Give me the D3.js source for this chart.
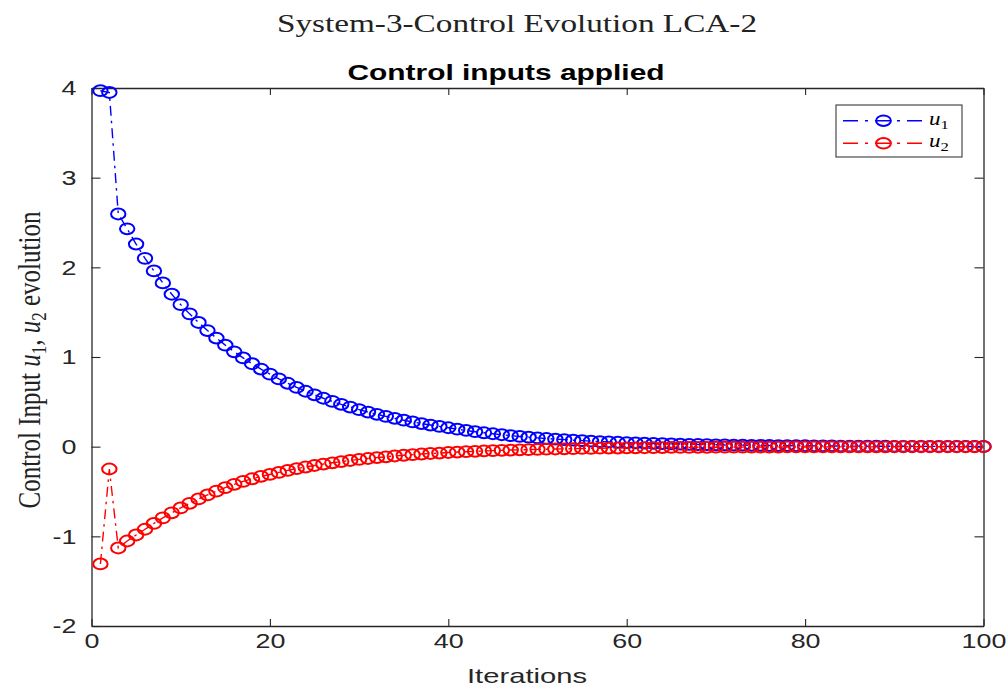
<!DOCTYPE html>
<html>
<head>
<meta charset="utf-8">
<script src="https://cdn.jsdelivr.net/npm/d3@7"></script>
<style>
  html, body { margin: 0; padding: 0; background: #fff; }
  svg { display: block; }
</style>
</head>
<body>
<svg id="chart" width="1006" height="696"></svg>
<script>
// Control inputs u1 and u2 over 100 iterations
const u1 = [
  3.970, 3.950, 2.595, 2.430, 2.260, 2.100, 1.960, 1.826, 1.700, 1.584,
  1.481, 1.385, 1.295, 1.211, 1.132, 1.058, 0.990, 0.925, 0.865, 0.809,
  0.756, 0.707, 0.661, 0.618, 0.578, 0.540, 0.505, 0.472, 0.442, 0.413,
  0.386, 0.361, 0.338, 0.316, 0.295, 0.276, 0.258, 0.241, 0.226, 0.211,
  0.195, 0.181, 0.167, 0.155, 0.144, 0.133, 0.123, 0.114, 0.106, 0.098,
  0.091, 0.084, 0.078, 0.072, 0.067, 0.062, 0.057, 0.053, 0.049, 0.045,
  0.042, 0.039, 0.036, 0.033, 0.031, 0.029, 0.026, 0.024, 0.023, 0.021,
  0.019, 0.018, 0.017, 0.015, 0.014, 0.013, 0.012, 0.011, 0.010, 0.010,
  0.009, 0.008, 0.008, 0.007, 0.006, 0.006, 0.005, 0.005, 0.005, 0.004,
  0.004, 0.004, 0.003, 0.003, 0.003, 0.003, 0.002, 0.002, 0.002, 0.002
];
const u2 = [
  -1.308, -0.249, -1.130, -1.052, -0.985, -0.921, -0.856, -0.794, -0.738, -0.683,
  -0.632, -0.583, -0.538, -0.496, -0.457, -0.420, -0.387, -0.358, -0.331, -0.310,
  -0.287, -0.265, -0.245, -0.227, -0.210, -0.194, -0.180, -0.166, -0.154, -0.142,
  -0.132, -0.122, -0.113, -0.104, -0.096, -0.089, -0.082, -0.076, -0.071, -0.065,
  -0.060, -0.056, -0.052, -0.048, -0.044, -0.041, -0.038, -0.035, -0.033, -0.030,
  -0.028, -0.026, -0.024, -0.022, -0.020, -0.019, -0.017, -0.016, -0.015, -0.014,
  -0.013, -0.012, -0.011, -0.010, -0.009, -0.009, -0.008, -0.007, -0.007, -0.006,
  -0.006, -0.005, -0.005, -0.005, -0.004, -0.004, -0.004, -0.003, -0.003, -0.003,
  -0.003, -0.003, -0.002, -0.002, -0.002, -0.002, -0.002, -0.002, -0.002, -0.001,
  -0.001, -0.001, -0.001, -0.001, -0.001, -0.001, -0.001, -0.001, -0.001, -0.001
];
const iterations = d3.range(1, u1.length + 1);
const xTicks = [0, 20, 40, 60, 80, 100];
const yTicks = [-2, -1, 0, 1, 2, 3, 4];
const seriesNames = ["1", "2"];

const series = [
  { key: seriesNames[0], values: u1, color: "#0000ff" },
  { key: seriesNames[1], values: u2, color: "#ff0000" }
];

const svg = d3.select("#chart");
const box = { left: 91.5, right: 983.5, top: 88, bottom: 626 };
const SX = 1.28; // horizontal glyph stretch

const x = d3.scaleLinear().domain([0, 100]).range([box.left, box.right]);
const y = d3.scaleLinear().domain([-2, 4]).range([box.bottom, box.top]);

const axisColor = "#262626";

function styleAxis(g) {
  g.select(".domain").attr("stroke", axisColor).attr("stroke-width", 1.3);
  g.selectAll(".tick line").attr("stroke", axisColor).attr("stroke-width", 1.1);
  g.selectAll(".tick text")
    .attr("fill", axisColor)
    .style("font-family", "'Liberation Sans', Arial, sans-serif")
    .style("font-size", "21px");
}

// bottom axis with labels
const gx = svg.append("g")
  .attr("transform", `translate(0,${box.bottom})`)
  .call(d3.axisBottom(x).tickValues(xTicks).tickSizeInner(-7).tickSizeOuter(0)
    .tickPadding(7).tickFormat(d => String(d)));
styleAxis(gx);
gx.selectAll(".tick text").attr("transform", `scale(${SX},1)`);

// top axis (ticks only)
const gxt = svg.append("g")
  .attr("transform", `translate(0,${box.top})`)
  .call(d3.axisTop(x).tickValues(xTicks).tickSizeInner(-7).tickSizeOuter(0).tickFormat(""));
styleAxis(gxt);

// left axis with labels
const gy = svg.append("g")
  .attr("transform", `translate(${box.left},0)`)
  .call(d3.axisLeft(y).tickValues(yTicks).tickSizeInner(-9).tickSizeOuter(0)
    .tickPadding(0).tickFormat(d => String(d)));
styleAxis(gy);
gy.selectAll(".tick text")
  .attr("x", -15 / SX)
  .attr("transform", `scale(${SX},1)`);

// right axis (ticks only)
const gyr = svg.append("g")
  .attr("transform", `translate(${box.right},0)`)
  .call(d3.axisRight(y).tickValues(yTicks).tickSizeInner(-9).tickSizeOuter(0).tickFormat(""));
styleAxis(gyr);

// series lines and markers
const line = d3.line()
  .x((d, i) => x(iterations[i]))
  .y(d => y(d));

const plot = svg.append("g");
series.forEach(s => {
  plot.append("path")
    .datum(s.values)
    .attr("d", line)
    .attr("fill", "none")
    .attr("stroke", s.color)
    .attr("stroke-width", 1.4)
    .attr("stroke-dasharray", "10,5,2.5,5");
  plot.selectAll(null)
    .data(s.values)
    .enter().append("ellipse")
    .attr("cx", (d, i) => x(iterations[i]))
    .attr("cy", d => y(d))
    .attr("rx", 7.2)
    .attr("ry", 5.4)
    .attr("fill", "none")
    .attr("stroke", s.color)
    .attr("stroke-width", 2);
});

// titles
svg.append("text")
  .attr("transform", `translate(517,32) scale(${SX},1)`)
  .attr("text-anchor", "middle")
  .style("font-family", "'Liberation Serif', 'Times New Roman', serif")
  .style("font-size", "26px")
  .attr("fill", "#222")
  .attr("textLength", 480 / SX)
  .attr("lengthAdjust", "spacingAndGlyphs")
  .text("System-3-Control Evolution LCA-2");

svg.append("text")
  .attr("transform", `translate(506,80) scale(${SX},1)`)
  .attr("text-anchor", "middle")
  .style("font-family", "'Liberation Sans', Arial, sans-serif")
  .style("font-size", "22px")
  .style("font-weight", "bold")
  .attr("fill", "#000")
  .attr("textLength", 317 / SX)
  .attr("lengthAdjust", "spacingAndGlyphs")
  .text("Control inputs applied");

// x label
svg.append("text")
  .attr("transform", `translate(527,683) scale(${SX},1)`)
  .attr("text-anchor", "middle")
  .style("font-family", "'Liberation Sans', Arial, sans-serif")
  .style("font-size", "21px")
  .attr("fill", axisColor)
  .attr("textLength", 120 / SX)
  .attr("lengthAdjust", "spacingAndGlyphs")
  .text("Iterations");

// y label with math subscripts
const yl = svg.append("text")
  .attr("transform", `translate(40,360) scale(${SX},1) rotate(-90)`)
  .attr("text-anchor", "middle")
  .style("font-family", "'Liberation Serif', 'Times New Roman', serif")
  .style("font-size", "25px")
  .attr("fill", "#222");
yl.append("tspan").text("Control Input ");
yl.append("tspan").style("font-style", "italic").text("u");
yl.append("tspan").attr("dy", 5).style("font-size", "17px").text("1");
yl.append("tspan").attr("dy", -5).text(", ");
yl.append("tspan").style("font-style", "italic").text("u");
yl.append("tspan").attr("dy", 5).style("font-size", "17px").text("2");
yl.append("tspan").attr("dy", -5).text(" evolution");

// legend
const legend = svg.append("g");
legend.append("rect")
  .attr("x", 836).attr("y", 105)
  .attr("width", 126).attr("height", 52)
  .attr("fill", "#fff")
  .attr("stroke", axisColor)
  .attr("stroke-width", 1);

series.forEach((s, i) => {
  const ly = 120.7 + i * 22.6;
  const row = legend.append("g");
  row.append("line")
    .attr("x1", 843).attr("x2", 923)
    .attr("y1", ly).attr("y2", ly)
    .attr("stroke", s.color)
    .attr("stroke-width", 1.4)
    .attr("stroke-dasharray", "15,7,3,7");
  row.append("ellipse")
    .attr("cx", 883.5).attr("cy", ly)
    .attr("rx", 7.4).attr("ry", 5.2)
    .attr("fill", "none")
    .attr("stroke", s.color)
    .attr("stroke-width", 2);
  const t = row.append("text")
    .attr("transform", `translate(929,${ly + 4}) scale(${SX},1)`)
    .style("font-family", "'Liberation Serif', 'Times New Roman', serif")
    .style("font-size", "18px")
    .attr("fill", "#000");
  t.append("tspan").style("font-style", "italic").text("u");
  t.append("tspan").attr("dy", 4).style("font-size", "13px").text(s.key);
});
</script>
</body>
</html>
